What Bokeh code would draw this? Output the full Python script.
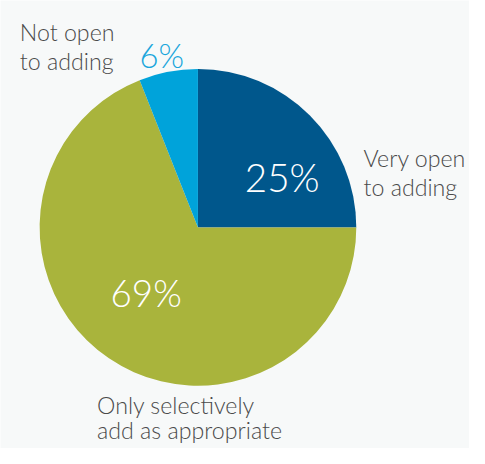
import numpy as np
from bokeh.plotting import figure
from bokeh.models import Range1d, ColumnDataSource
from bokeh.core.properties import value
from bokeh.embed import file_html
from bokeh.resources import INLINE

categories = ["Very open to adding", "Only selectively add as appropriate", "Not open to adding"]
shares = [25, 69, 6]
pct_labels = ["25%", "69%", "6%"]
colors = ["#00578c", "#a9b43c", "#00a3da"]

BG = "#f7f9f9"
W, H = 469, 448
S = H / 464.0          # px per reference unit
CX, CY = 204.5, 235.0  # pie centre in reference units
R = 164

p = figure(width=W, height=H, output_backend="svg", toolbar_location=None,
           x_range=Range1d(-CX, -CX + W / S), y_range=Range1d(CY - 464, CY),
           min_border=0, background_fill_color=BG, border_fill_color=BG)
p.axis.visible = False
p.grid.visible = False
p.outline_line_color = None

vals = np.array(shares, dtype=float)
cum = np.concatenate([[0], np.cumsum(vals)]) / vals.sum()
start = np.pi / 2 - cum[:-1] * 2 * np.pi
end = np.pi / 2 - cum[1:] * 2 * np.pi
src = ColumnDataSource(dict(start=start, end=end, color=colors, cat=categories))
p.wedge(x=0, y=0, radius=R, start_angle="start", end_angle="end", direction="clock",
        fill_color="color", line_color=None, source=src)

FONT = value("Lato Light")
GRAY = "#4a4a4a"

def txt(xs, ys, t, size, color):
    p.text(x=[xs - CX], y=[CY - ys], text=[t], text_font=FONT,
           text_font_size=f"{size * S:.1f}px", text_color=color,
           text_baseline="alphabetic", text_align="left")

# category labels
txt(20, 33, "Not open", 24, GRAY)
txt(20, 63, "to adding", 24, GRAY)
txt(376, 163, "Very open", 24, GRAY)
txt(376, 193, "to adding", 24, GRAY)
txt(100, 419, "Only selectively", 24, GRAY)
txt(100, 445, "add as appropriate", 24, GRAY)

# percent labels
txt(253, 183, pct_labels[0], 40, "white")
txt(114, 303, pct_labels[1], 38, "white")
txt(144, 57, pct_labels[2], 34, "#1aa6dc")

open("out.html", "w").write(file_html(p, INLINE))
